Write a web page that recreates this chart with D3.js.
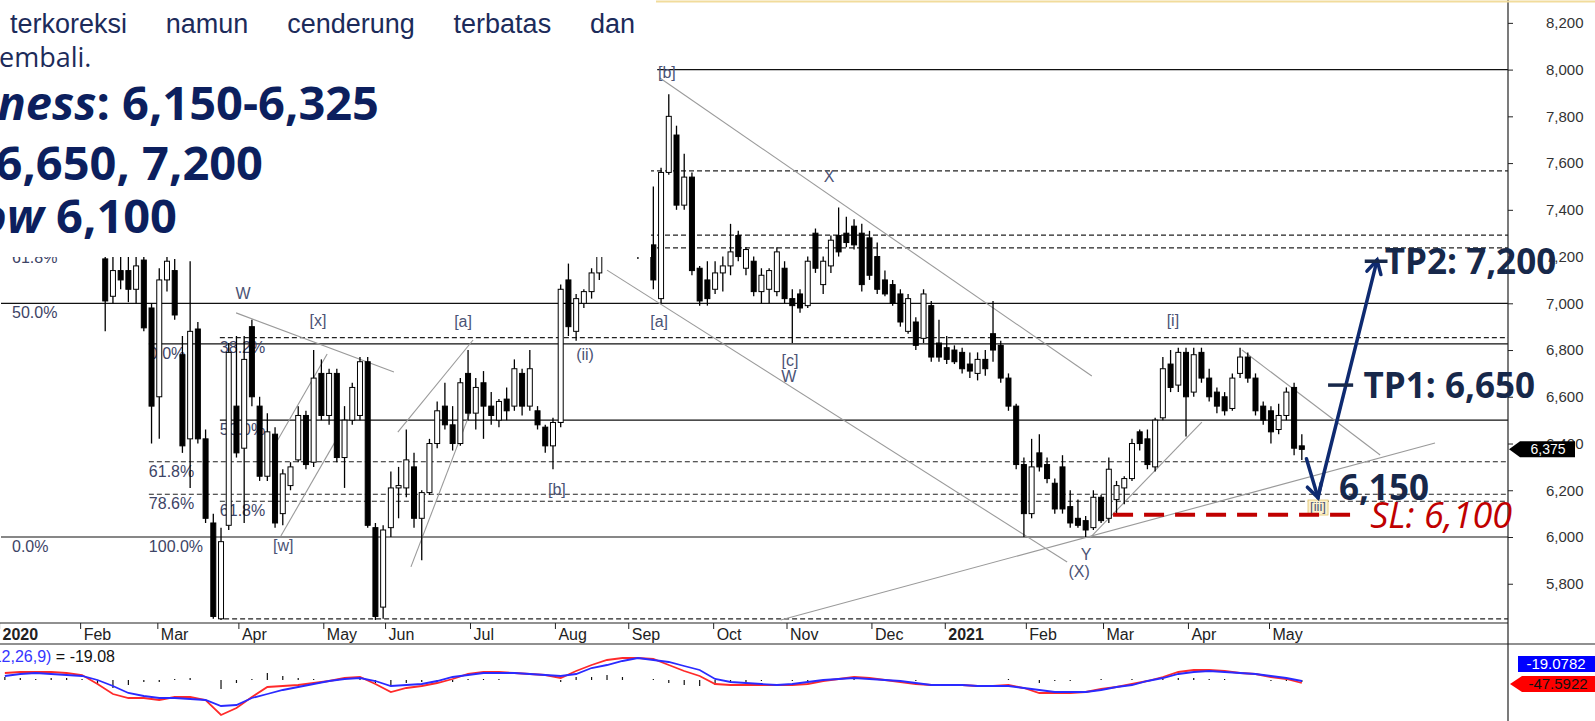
<!DOCTYPE html>
<html>
<head>
<meta charset="utf-8">
<script src="https://cdn.jsdelivr.net/npm/d3@7/dist/d3.min.js"></script>
<style>
  body { margin: 0; background: #fff; }
  svg { display: block; }
  text { font-family: "Liberation Sans", Arial, sans-serif; }
</style>
</head>
<body>
<div id="chart"></div>
<script>
// ---- data (2-trading-day candles, Jan 2020 .. May 2021) ----
const opens = [7925,7900,7825,7850,7725,7775,7625,7650,7525,7575,7425,7475,7325,7190,7030,7140,7140,7060,7185,6980,
  6600,7100,7140,6780,6420,6890,6420,6060,5650,6050,6560,6380,6900,6560,6260,6440,6100,6220,6330,6520,
  6320,6700,6520,6700,6340,6500,6520,6750,6040,5700,6040,6210,6210,6300,6080,6190,6400,6560,6480,6400,
  6700,6530,6660,6560,6500,6590,6560,6700,6560,6540,6470,6390,6490,7100,6880,7000,7050,7130,7230,7280,
  7300,7260,7230,7280,7250,7020,7560,7720,7420,7540,7150,7100,7060,7130,7160,7290,7150,7180,7050,7060,
  7050,7150,7020,7040,6990,7300,7080,7160,7290,7300,7330,7300,7280,7200,7100,7080,7040,6880,6920,6850,
  6990,6830,6810,6800,6790,6740,6700,6760,6870,6820,6680,6560,6310,6100,6360,6310,6230,6300,6130,6080,
  6070,6040,6170,6080,6160,6210,6250,6450,6420,6300,6510,6740,6650,6790,6620,6790,6680,6620,6600,6550,
  6700,6770,6680,6560,6540,6460,6520,6640,6390];
const highs = [7975,7950,7900,7875,7800,7800,7700,7675,7600,7600,7500,7500,7400,7260,7220,7250,7200,7230,7250,7000,
  7150,7230,7190,6860,7180,6920,6460,6100,6040,6830,6860,6860,6930,6600,6530,6470,6290,6320,6560,6540,
  6800,6760,6720,6720,6560,6660,6770,6770,6060,6050,6280,6300,6460,6360,6200,6420,6580,6660,6560,6680,
  6800,6680,6710,6620,6590,6640,6760,6720,6800,6560,6480,6510,7080,7170,7040,7060,7150,7250,7300,7330,
  7350,7300,7290,7320,7500,7580,7895,7760,7640,7560,7160,7180,7180,7200,7340,7310,7240,7200,7150,7150,
  7240,7180,7060,7060,7200,7320,7200,7290,7410,7370,7360,7340,7310,7260,7140,7100,7060,7040,6940,7060,
  7010,6930,6860,6820,6810,6790,6790,6800,7010,6840,6700,6570,6340,6420,6440,6340,6250,6350,6200,6160,
  6090,6200,6180,6340,6240,6260,6420,6460,6460,6510,6770,6800,6810,6810,6810,6810,6720,6640,6620,6700,
  6810,6790,6700,6580,6560,6570,6640,6660,6440];
const lows = [7850,7800,7750,7700,7650,7600,7550,7500,7450,7400,7350,7300,7220,6880,7000,7060,7005,7000,6880,6400,
  6420,7050,6930,6360,6210,6400,6060,5650,5645,6030,6340,6060,6560,6240,6240,6040,6050,6200,6320,6290,
  6300,6500,6480,6320,6210,6480,6500,6040,5645,5650,6000,6080,6170,6040,5900,6180,6380,6460,6370,6390,
  6500,6460,6420,6480,6470,6500,6540,6520,6540,6460,6360,6290,6470,6860,6840,6980,7020,7100,7200,7230,
  7240,7200,7190,7200,7060,7000,7550,7400,7400,7120,6990,6990,7040,7050,7120,7180,7120,7030,7000,7000,
  7030,7000,6830,6960,6980,7130,7040,7130,7200,7240,7230,7050,7100,7040,7030,6990,6900,6870,6800,6830,
  6750,6750,6740,6740,6700,6680,6670,6690,6750,6660,6540,6290,6000,6080,6280,6230,6100,6100,6040,6040,
  6000,6030,6060,6060,6100,6140,6240,6370,6290,6280,6500,6620,6620,6430,6600,6660,6580,6530,6520,6540,
  6680,6660,6520,6480,6400,6440,6500,6350,6330];
const closes = [7900,7825,7850,7725,7775,7625,7650,7525,7575,7425,7475,7325,7260,7010,7140,7100,7060,7160,6895,6560,
  7100,7180,6950,6390,6880,6420,6080,5660,5980,6790,6360,6760,6600,6260,6450,6060,6270,6300,6520,6310,
  6680,6520,6700,6340,6500,6640,6750,6050,5660,6030,6210,6220,6330,6080,6190,6400,6540,6480,6400,6660,
  6530,6640,6560,6520,6580,6540,6720,6560,6720,6480,6390,6490,7060,6900,7020,7050,7130,7230,7280,7300,
  7260,7230,7270,7220,7100,7560,7800,7420,7540,7140,7010,7020,7130,7160,7220,7200,7230,7050,7120,7140,
  7220,7020,6990,6980,7180,7150,7180,7270,7220,7260,7250,7080,7120,7060,7040,7000,6920,7020,6820,7040,
  6770,6770,6760,6750,6720,6710,6760,6720,6800,6680,6560,6310,6100,6300,6300,6250,6120,6120,6060,6050,
  6030,6170,6070,6290,6220,6250,6400,6400,6310,6500,6720,6640,6790,6600,6780,6680,6600,6560,6540,6680,
  6770,6680,6540,6500,6450,6520,6620,6380,6375];

// MACD(12,26,9), one reading every 4 trading days
const macdLine = [35,40,40,40,35,25,-20,-70,-90,-90,-100,-85,-85,-100,-175,-140,-85,-35,-30,-25,
  -15,-5,10,15,-20,-60,-40,-30,-15,5,30,40,40,35,30,25,10,45,75,100,
  110,110,105,75,45,20,-20,-25,-25,-25,-25,-25,-20,-5,5,15,10,0,-10,-20,
  -25,-25,-25,-30,-30,-25,-40,-65,-65,-65,-60,-45,-35,-20,-5,15,40,50,50,45,
  35,30,15,5,-15];
const signalLine = [20,30,35,30,25,20,0,-30,-65,-80,-90,-90,-95,-100,-130,-125,-90,-70,-50,-35,
  -20,-5,5,10,-5,-30,-25,-20,-5,15,25,35,35,35,30,25,20,30,60,75,
  95,110,100,90,70,50,5,-10,-15,-20,-25,-20,-10,0,5,10,5,0,-5,-15,
  -25,-25,-25,-30,-30,-30,-40,-50,-60,-60,-60,-50,-35,-25,-5,10,30,40,45,40,
  35,30,20,10,-5];

const priceTicks = [5800,6000,6200,6400,6600,6800,7000,7200,7400,7600,7800,8000,8200];
const monthLabels = ["2020","Feb","Mar","Apr","May","Jun","Jul","Aug","Sep","Oct","Nov","Dec","2021","Feb","Mar","Apr","May"];
const monthStartDays = [0,21,41,62,84,100,122,144,163,185,204,226,245,266,286,308,329];

// horizontal levels: [price, first trading day]
const solidLevels = [[8000,170],[7000,0],[6826,38.3],[6500,56.7],[6000,0]];
const dashedLevels = [[7567,0],[7292,0],[7237,0],[6853,56.7],[6322,38.3],[6183,38.3],[6153,56.7],[5650,57.8]];
const fibLabels = [["61.8%",2.85,7237],["50.0%",2.85,7000],["0.0%",2.85,6000],
  ["0.0%",38.3,6826],["61.8%",38.3,6322],["78.6%",38.3,6183],["100.0%",38.3,6000],
  ["38.2%",56.7,6853],["50.0%",56.7,6500],["61.8%",56.7,6153]];
const waveLabels = [["W",62.7,7036],["[x]",82.1,6920],["[w]",73.1,5957],["[a]",119.7,6916],["(ii)",151.3,6775],
  ["[b]",144,6197],["[b]",172.5,7981],["[a]",170.5,6916],["X",214.5,7536],["[c]",204.4,6749],["W",204.1,6680],
  ["[i]",303.6,6920],["Y",281.1,5919],["(X)",279.3,5846]];
// trend lines: [day1, price1, day2, price2]
const trendLines = [[60.9,6959,101.8,6706],[70.5,6381,84.5,6783],[72.5,6004,86.5,6406],
  [102.8,6449,122.3,6843],[106.2,5872,121.5,6531],[170.7,7964,282.6,6689],[157,7142,276.2,5893],
  [202,5645,371.5,6402],[282.1,5996,311.1,6492],[321.5,6800,357.3,6351]];

const lastPrice = 6375;
const paragraphWords = ["terkoreksi", "namun", "cenderung", "terbatas", "dan"];

// ---- layout ----
const W = 1595, H = 721;
const axisX = 1508;

const svg = d3.select("#chart").append("svg")
  .attr("width", W).attr("height", H);

const x = d3.scaleLinear().domain([0, 400]).range([1, 1 + 3.86 * 400]);
const y = d3.scaleLinear().domain([6000, 8000]).range([537, 69.6]);
const yM = d3.scaleLinear().domain([-200, 100]).range([720, 660]);

const plot = svg.append("g");

// levels
plot.selectAll(".solid").data(solidLevels).enter().append("line")
  .attr("x1", d => x(d[1])).attr("x2", axisX)
  .attr("y1", d => y(d[0])).attr("y2", d => y(d[0]))
  .attr("stroke", "#111").attr("stroke-width", 1.2);

plot.selectAll(".dashed").data(dashedLevels).enter().append("line")
  .attr("x1", d => x(d[1])).attr("x2", axisX)
  .attr("y1", d => y(d[0])).attr("y2", d => y(d[0]))
  .attr("stroke", "#222").attr("stroke-width", 1.2)
  .attr("stroke-dasharray", "5,3");

// trend lines
plot.selectAll(".trend").data(trendLines).enter().append("line")
  .attr("x1", d => x(d[0])).attr("y1", d => y(d[1]))
  .attr("x2", d => x(d[2])).attr("y2", d => y(d[3]))
  .attr("stroke", "#9a9a9a").attr("stroke-width", 1.1);

// fib labels
plot.selectAll(".fib").data(fibLabels).enter().append("text")
  .attr("x", d => x(d[1])).attr("y", d => y(d[2]) + 15)
  .attr("font-size", 16).attr("fill", "#3d4466")
  .text(d => d[0]);

// candles
const candles = opens.map((o, i) => ({day: 2 * i + 1, o: o, h: highs[i], l: lows[i], c: closes[i]}));
const cg = plot.append("g");
cg.selectAll(".wick").data(candles).enter().append("line")
  .attr("x1", d => x(d.day)).attr("x2", d => x(d.day))
  .attr("y1", d => y(d.h)).attr("y2", d => y(d.l))
  .attr("stroke", "#000").attr("stroke-width", 1.3);
cg.selectAll(".body").data(candles).enter().append("rect")
  .attr("x", d => x(d.day) - 2.5)
  .attr("y", d => y(Math.max(d.o, d.c)))
  .attr("width", 5)
  .attr("height", d => Math.max(1, Math.abs(y(d.o) - y(d.c))))
  .attr("fill", d => d.c >= d.o ? "#fff" : "#000")
  .attr("stroke", "#000").attr("stroke-width", 1);

// wave labels
plot.selectAll(".wave").data(waveLabels).enter().append("text")
  .attr("x", d => x(d[1])).attr("y", d => y(d[2]))
  .attr("text-anchor", "middle").attr("dominant-baseline", "middle")
  .attr("font-size", 16).attr("fill", "#4b5375")
  .text(d => d[0]);

// [iii] highlighted label
const iii = plot.append("g").attr("transform", `translate(${x(341.2)},${y(6124)})`);
iii.append("rect").attr("x", -10).attr("y", -8).attr("width", 20).attr("height", 15)
  .attr("fill", "#fbf1cf").attr("stroke", "#e2c46a").attr("stroke-width", 0.8);
iii.append("text").attr("text-anchor", "middle").attr("dominant-baseline", "middle")
  .attr("font-size", 13).attr("fill", "#4b5375").text("[iii]");

// ---- axes ----
const yAxis = d3.axisRight(y).tickValues(priceTicks).tickFormat(d3.format(","))
  .tickSize(5).tickPadding(33);
const ya = svg.append("g").attr("transform", `translate(${axisX},0)`).call(yAxis);
ya.select(".domain").remove();
ya.selectAll("line").attr("stroke", "#222");
ya.selectAll("text").attr("font-size", 15).attr("fill", "#333")
  .style("font-family", "'Liberation Sans', Arial, sans-serif");

svg.append("line").attr("x1", axisX).attr("x2", axisX).attr("y1", 0).attr("y2", H)
  .attr("stroke", "#222").attr("stroke-width", 1.2);

// date axis
svg.append("line").attr("x1", 0).attr("x2", axisX).attr("y1", 623).attr("y2", 623)
  .attr("stroke", "#222").attr("stroke-width", 1.2);
svg.append("line").attr("x1", 0).attr("x2", W).attr("y1", 644).attr("y2", 644)
  .attr("stroke", "#222").attr("stroke-width", 1.2);

const xAxis = d3.axisBottom(x).tickValues(monthStartDays.map(d => d - 0.5))
  .tickFormat((d, i) => monthLabels[i]).tickSize(6).tickPadding(2);
const xa = svg.append("g").attr("transform", "translate(0,623)").call(xAxis);
xa.select(".domain").remove();
xa.selectAll("line").attr("stroke", "#222");
xa.selectAll("text")
  .attr("text-anchor", "start").attr("x", 3).attr("y", 4).attr("dy", "0.8em")
  .attr("font-size", 16).attr("fill", "#222")
  .style("font-family", "'Liberation Sans Narrow', 'Arial Narrow', 'Liberation Sans', sans-serif")
  .attr("font-weight", (d, i) => monthLabels[i].length === 4 ? "bold" : "normal");

// ---- MACD panel ----
const macdX = (d, i) => x(i * 4 + 1);
svg.append("g").selectAll("line").data(macdLine).enter().append("line")
  .attr("x1", macdX).attr("x2", macdX)
  .attr("y1", yM(0)).attr("y2", (d, i) => yM(d - signalLine[i]))
  .attr("stroke", "#111").attr("stroke-width", 1.2);

svg.append("path").datum(macdLine)
  .attr("d", d3.line().x(macdX).y(d => yM(d)))
  .attr("fill", "none").attr("stroke", "#ff2a2a").attr("stroke-width", 1.8);
svg.append("path").datum(signalLine)
  .attr("d", d3.line().x(macdX).y(d => yM(d)))
  .attr("fill", "none").attr("stroke", "#2a2aff").attr("stroke-width", 1.8);

const mt = svg.append("text").attr("x", 115).attr("y", 662).attr("text-anchor", "end")
  .attr("font-size", 16)
  .style("font-family", "'Liberation Sans Narrow', 'Arial Narrow', sans-serif");
mt.append("tspan").attr("fill", "#3535ff").text("MACD(12,26,9)");
mt.append("tspan").attr("fill", "#111").text(" = -19.08");

// right-side value boxes
svg.append("rect").attr("x", 1518).attr("y", 656).attr("width", 77).attr("height", 16).attr("fill", "#0000ff");
svg.append("text").attr("x", 1556).attr("y", 669).attr("text-anchor", "middle").attr("font-size", 15)
  .attr("fill", "#fff").text("-19.0782");
svg.append("path").attr("d", "M1510,684 L1522,676 L1595,676 L1595,692 L1522,692 Z").attr("fill", "#ff0000");
svg.append("text").attr("x", 1558).attr("y", 689).attr("text-anchor", "middle").attr("font-size", 15)
  .attr("fill", "#111").text("-47.5922");

// last price marker
const ly = y(lastPrice);
svg.append("path").attr("d", `M${axisX + 1},${ly} L${axisX + 12},${ly - 8} L1575,${ly - 8} L1575,${ly + 8} L${axisX + 12},${ly + 8} Z`)
  .attr("fill", "#000");
svg.append("text").attr("x", 1548).attr("y", ly + 5).attr("text-anchor", "middle").attr("font-size", 14)
  .attr("fill", "#fff").text(d3.format(",")(lastPrice));

// ---- text box overlay (top-left) ----
svg.append("rect").attr("x", 0).attr("y", 0).attr("width", 651).attr("height", 257).attr("fill", "#fff");
svg.append("line").attr("x1", 656).attr("x2", W).attr("y1", 1.5).attr("y2", 1.5)
  .attr("stroke", "#f1dc9c").attr("stroke-width", 2);

const navy = "#0c1f5e";
const sans = "'Open Sans', 'Noto Sans', sans-serif";

// justified paragraph line: words spread between x=10 and x=635
const para = svg.append("g").attr("font-size", 27).attr("fill", "#1c2b5a").style("font-family", sans);
const wordNodes = paragraphWords.map(w => para.append("text").attr("y", 33).text(w));
const widths = wordNodes.map(n => n.node().getComputedTextLength());
const gap = (625 - d3.sum(widths)) / (paragraphWords.length - 1);
let cx = 10;
wordNodes.forEach((n, i) => { n.attr("x", cx); cx += widths[i] + gap; });

// "kembali." with its first letter running off the left edge
const kb = svg.append("text").attr("y", 67).attr("font-size", 27)
  .attr("fill", "#1c2b5a").style("font-family", sans);
kb.append("tspan").text("k");
const kw = kb.node().getComputedTextLength();
kb.append("tspan").text("embali.");
kb.attr("x", -kw - 1);

const l1 = svg.append("text").attr("x", 379).attr("y", 120).attr("text-anchor", "end")
  .attr("font-size", 47).attr("font-weight", 700).attr("fill", navy).style("font-family", sans);
l1.append("tspan").attr("font-style", "italic").text("Buy on Weakness");
l1.append("tspan").text(": 6,150-6,325");

svg.append("text").attr("x", 263).attr("y", 180).attr("text-anchor", "end")
  .attr("font-size", 47).attr("font-weight", 700).attr("fill", navy).style("font-family", sans)
  .text("Target Price: 6,650, 7,200");

const l3 = svg.append("text").attr("x", 177).attr("y", 233).attr("text-anchor", "end")
  .attr("font-size", 47).attr("font-weight", 700).attr("fill", navy).style("font-family", sans);
l3.append("tspan").text("Stoploss: ");
l3.append("tspan").attr("font-style", "italic").text("below");
l3.append("tspan").text(" 6,100");

// ---- trade plan annotations ----
const tpColor = "#17284a";
const arrowColor = "#0e2a70";

// stop-loss dashed line
svg.append("line").attr("x1", x(288.1)).attr("x2", x(351)).attr("y1", y(6095)).attr("y2", y(6095))
  .attr("stroke", "#c00000").attr("stroke-width", 4).attr("stroke-dasharray", "20,11");

function arrow(p1, p2) {
  const x1 = x(p1[0]), y1 = y(p1[1]), x2 = x(p2[0]), y2 = y(p2[1]);
  const ang = Math.atan2(y2 - y1, x2 - x1);
  const len = 15, spread = 0.5;
  const g = svg.append("g").attr("stroke", arrowColor).attr("stroke-width", 3.5)
    .attr("stroke-linecap", "round").attr("fill", "none");
  g.append("line").attr("x1", x1).attr("y1", y1).attr("x2", x2).attr("y2", y2);
  g.append("path").attr("d",
    `M${x2 - len * Math.cos(ang - spread)},${y2 - len * Math.sin(ang - spread)} L${x2},${y2} L${x2 - len * Math.cos(ang + spread)},${y2 - len * Math.sin(ang + spread)}`);
}
arrow([338.2, 6335], [341.2, 6168]);
arrow([341.4, 6185], [356.5, 7185]);

// TP markers
svg.append("line").attr("x1", x(353.3)).attr("x2", x(359.2)).attr("y1", y(7180)).attr("y2", y(7180))
  .attr("stroke", tpColor).attr("stroke-width", 3.5);
svg.append("line").attr("x1", x(343.8)).attr("x2", x(350.3)).attr("y1", y(6650)).attr("y2", y(6650))
  .attr("stroke", tpColor).attr("stroke-width", 3.5);

const bold = (t, d, p, dy) => svg.append("text").attr("x", x(d)).attr("y", y(p) + dy)
  .attr("font-size", 35).attr("font-weight", 700).attr("fill", tpColor)
  .style("font-family", sans).text(t);
bold("TP2: 7,200", 358.5, 7180, 12.5);
bold("TP1: 6,650", 353, 6650, 13);
bold("6,150", 346.6, 6150, -2);

svg.append("text").attr("x", x(354.7)).attr("y", y(6100) + 14.5)
  .attr("font-size", 36).attr("font-style", "italic").attr("fill", "#c00000")
  .style("font-family", sans).text("SL: 6,100");
</script>
</body>
</html>
